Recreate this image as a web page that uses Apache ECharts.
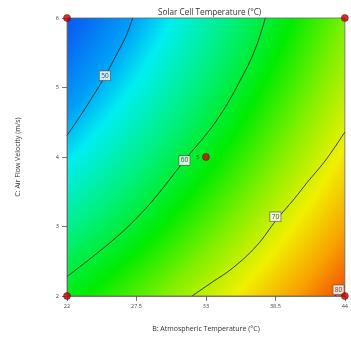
<!DOCTYPE html>
<html>
<head>
<meta charset="utf-8">
<script src="https://cdn.jsdelivr.net/npm/echarts@6/dist/echarts.min.js"></script>
<style>
  html, body { margin: 0; padding: 0; background: #fff; }
  #chart { width: 351px; height: 338px; }
</style>
</head>
<body>
<div id="chart"></div>
<script>
// axis ticks
const xTicks = [22, 27.5, 33, 38.5, 44];
const yTicks = [2, 3, 4, 5, 6];

// contour lines: [B (°C), C (m/s)]
const contour50 = [[22, 4.31], [22.9, 4.55], [24, 4.86], [25, 5.16], [26, 5.5], [26.7, 5.75], [27.2, 6]];
const contour60 = [[22, 2.28], [24, 2.56], [26, 2.86], [27.4, 3.1], [29, 3.42], [31.3, 3.95], [33.9, 4.54], [36, 5.2], [37, 5.6], [37.7, 6]];
const contour70 = [[31.9, 2], [33.5, 2.2], [35.1, 2.4], [37, 2.72], [38.6, 3.1], [40, 3.4], [41, 3.63], [42.5, 3.96], [44, 4.36]];
const contour80 = [[43.2, 2], [43.6, 2.07], [44, 2.14]];

// where the contour values are written
const contourLabels = [[25.0, 5.17, 50], [31.3, 3.95, 60], [38.5, 3.14, 70], [43.5, 2.09, 80]];

// design points, last one is the centre point with 5 replicates
const cornerPoints = [[22, 2], [22, 6], [44, 6], [44, 2]];
const centerPoint = [[33, 4, 5]];

const chart = echarts.init(document.getElementById('chart'));

// surface shading (style only): colour bands follow near-circular arcs
// centred up-left of the plot; offsets are fractions of the gradient radius
const surfaceStops = [
  [0.494, '#0044f2'],
  [0.509, '#0a56f0'],
  [0.580, '#00a0f8'],
  [0.622, '#00eef0'],
  [0.688, '#00f080'],
  [0.759, '#00ec00'],
  [0.821, '#80f000'],
  [0.883, '#f0f000'],
  [0.938, '#f8a000'],
  [1.0, '#f03000']
];
const surface = new echarts.graphic.RadialGradient(-1.258, -0.777, 2.914,
  surfaceStops.map(([o, c]) => ({ offset: o, color: c })));

const fontFam = '"Open Sans", "Noto Sans", sans-serif';

const lineSeries = (name, data) => ({
  name: name,
  type: 'line',
  data: data,
  smooth: 0.4,
  symbol: 'none',
  clip: true,
  silent: true,
  lineStyle: { color: '#2a2a2a', width: 0.9 },
  z: 3
});

const option = {
  animation: false,
  title: {
    text: 'Solar Cell Temperature (°C)',
    left: 153,
    top: 4,
    textStyle: { fontSize: 8.2, fontWeight: 'normal', color: '#333', fontFamily: fontFam }
  },
  grid: {
    left: 67, right: 5, top: 18, bottom: 42,
    show: true,
    backgroundColor: surface,
    borderColor: '#666',
    borderWidth: 0.8
  },
  xAxis: {
    type: 'value',
    min: 22, max: 44, interval: 5.5,
    name: 'B: Atmospheric Temperature (°C)',
    nameLocation: 'middle',
    nameGap: 29,
    nameTextStyle: { fontSize: 7, color: '#333', fontFamily: fontFam },
    axisLine: { show: true, onZero: false, lineStyle: { color: '#666', width: 0.8 } },
    axisTick: { show: true, length: 5, lineStyle: { color: '#555', width: 0.8 } },
    axisLabel: { fontSize: 5.5, color: '#444', margin: 7, fontFamily: fontFam,
      formatter: v => xTicks.includes(v) ? String(v) : '' },
    splitLine: { show: false }
  },
  yAxis: {
    type: 'value',
    min: 2, max: 6, interval: 1,
    name: 'C: Air Flow Velocity (m/s)',
    nameLocation: 'middle',
    nameGap: 46,
    nameTextStyle: { fontSize: 7, color: '#333', fontFamily: fontFam },
    axisLine: { show: true, onZero: false, lineStyle: { color: '#666', width: 0.8 } },
    axisTick: { show: true, length: 5, lineStyle: { color: '#555', width: 0.8 } },
    axisLabel: { fontSize: 5.5, color: '#444', margin: 8, fontFamily: fontFam,
      formatter: v => yTicks.includes(v) ? String(v) : '' },
    splitLine: { show: false }
  },
  series: [
    lineSeries('50', contour50),
    lineSeries('60', contour60),
    lineSeries('70', contour70),
    lineSeries('80', contour80),
    {
      type: 'scatter',
      data: contourLabels,
      symbolSize: 0,
      silent: true,
      z: 5,
      label: {
        show: true,
        position: 'inside',
        formatter: p => String(p.value[2]),
        fontSize: 6.5,
        color: '#222',
        fontFamily: fontFam,
        backgroundColor: '#fff',
        borderColor: '#555',
        borderWidth: 0.7,
        padding: [1.5, 1.5, 0.5, 1.5]
      }
    },
    {
      type: 'scatter',
      data: cornerPoints,
      symbolSize: 7,
      clip: false,
      z: 6,
      itemStyle: { color: '#c00000', borderColor: '#600', borderWidth: 0.6 }
    },
    {
      type: 'scatter',
      data: centerPoint,
      symbolSize: 7,
      z: 6,
      itemStyle: { color: '#d00000', borderColor: '#600', borderWidth: 0.6 },
      label: {
        show: true,
        position: 'left',
        distance: 3,
        formatter: p => String(p.value[2]),
        fontSize: 6,
        color: '#222',
        fontFamily: fontFam
      }
    }
  ]
};

chart.setOption(option);
</script>
</body>
</html>
